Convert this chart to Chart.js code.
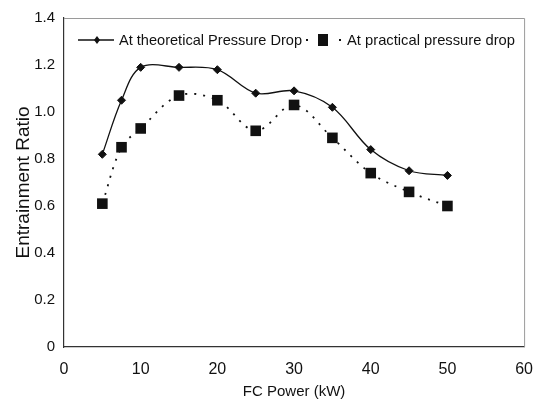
<!DOCTYPE html>
<html>
<head>
<meta charset="utf-8">
<script src="https://cdn.jsdelivr.net/npm/chart.js@4.4.1/dist/chart.umd.min.js"></script>
<style>
  html, body { margin: 0; padding: 0; background: #fff; }
  #wrap { width: 546px; height: 409px; position: relative; }
</style>
</head>
<body>
<div id="wrap"><canvas id="chart"></canvas></div>
<script>
// FC power (kW) against entrainment ratio, two pressure-drop cases
const fcPower     = [5, 7.5, 10, 15, 20, 25, 30, 35, 40, 45, 50]
const theoretical = [0.82, 1.05, 1.19, 1.19, 1.18, 1.08, 1.09, 1.02, 0.84, 0.75, 0.73]
const practical   = [0.61, 0.85, 0.93, 1.07, 1.05, 0.92, 1.03, 0.89, 0.74, 0.66, 0.60]
const seriesNames = ["At theoretical Pressure Drop", "At practical pressure drop"]

const toPoints = (ys) => ys.map((y, i) => ({ x: fcPower[i], y }))

// frame round the plot plus the in-plot legend row
const frameAndLegend = {
  id: "frameAndLegend",
  afterDatasetsDraw(chart) {
    const { ctx, chartArea: a } = chart
    ctx.save()
    // light top/right border
    ctx.strokeStyle = "#9a9a9a"
    ctx.lineWidth = 1
    ctx.beginPath()
    ctx.moveTo(a.left, a.top + 0.5)
    ctx.lineTo(a.right + 0.5, a.top + 0.5)
    ctx.lineTo(a.right + 0.5, a.bottom)
    ctx.stroke()

    const y = a.top + 22
    ctx.fillStyle = "#111"
    ctx.strokeStyle = "#111"
    // item 1: solid line with diamond
    ctx.lineWidth = 1.3
    ctx.beginPath()
    ctx.moveTo(78, y); ctx.lineTo(114, y)
    ctx.stroke()
    ctx.beginPath()
    ctx.moveTo(97, y - 4); ctx.lineTo(100, y); ctx.lineTo(97, y + 4); ctx.lineTo(94, y)
    ctx.closePath(); ctx.fill()

    ctx.font = "15px 'Liberation Sans', Arial, sans-serif"
    ctx.textBaseline = "middle"
    ctx.fillText(seriesNames[0], 119, y + 1, 183)

    // item 2: dotted line with square
    ctx.fillRect(306, y - 1, 2, 2)
    ctx.fillRect(318, y - 6, 10, 12)
    ctx.fillRect(339, y - 1, 2, 2)
    ctx.fillText(seriesNames[1], 347, y + 1, 168)
    ctx.restore()
  }
}

new Chart(document.getElementById("chart"), {
  type: "line",
  data: {
    datasets: [
      {
        label: seriesNames[0],
        data: toPoints(theoretical),
        borderColor: "#111",
        backgroundColor: "#111",
        borderWidth: 1.3,
        pointStyle: "rectRot",
        pointRadius: 4,
        pointBorderWidth: 1,
        tension: 0.35,
      },
      {
        label: seriesNames[1],
        data: toPoints(practical),
        borderColor: "#111",
        backgroundColor: "#111",
        borderWidth: 1.8,
        borderDash: [2, 7],
        pointStyle: "rect",
        pointRadius: 7.5,
        pointBorderWidth: 0,
        tension: 0.35,
      }
    ]
  },
  options: {
    responsive: true,
    maintainAspectRatio: false,
    animation: false,
    layout: { padding: { top: 13, right: 21, left: 0, bottom: 0 } },
    plugins: {
      legend: { display: false },
      tooltip: { enabled: false }
    },
    scales: {
      x: {
        type: "linear",
        min: 0, max: 60,
        afterFit: (s) => { s.height = 62 },
        grid: { display: false, drawTicks: false },
        border: { color: "#333", width: 1.2 },
        ticks: {
          stepSize: 10,
          padding: 13,
          color: "#111",
          font: { family: "'Liberation Sans', Arial, sans-serif", size: 16 }
        },
        title: {
          display: true,
          text: "FC Power (kW)",
          color: "#111",
          padding: { top: 0, bottom: 8 },
          font: { family: "'Liberation Sans Narrow', 'Liberation Sans', Arial, sans-serif", size: 15 }
        }
      },
      y: {
        min: 0, max: 1.4,
        afterFit: (s) => { s.width = 64 },
        grid: { display: false, drawTicks: false },
        border: { color: "#333", width: 1.2 },
        ticks: {
          stepSize: 0.2,
          padding: 9,
          color: "#111",
          font: { family: "'Liberation Sans', Arial, sans-serif", size: 15 }
        },
        title: {
          display: true,
          text: "Entrainment Ratio",
          color: "#111",
          padding: { top: 12, bottom: 0 },
          font: { family: "'Liberation Sans', Arial, sans-serif", size: 19 }
        }
      }
    }
  },
  plugins: [frameAndLegend]
})
</script>
</body>
</html>
